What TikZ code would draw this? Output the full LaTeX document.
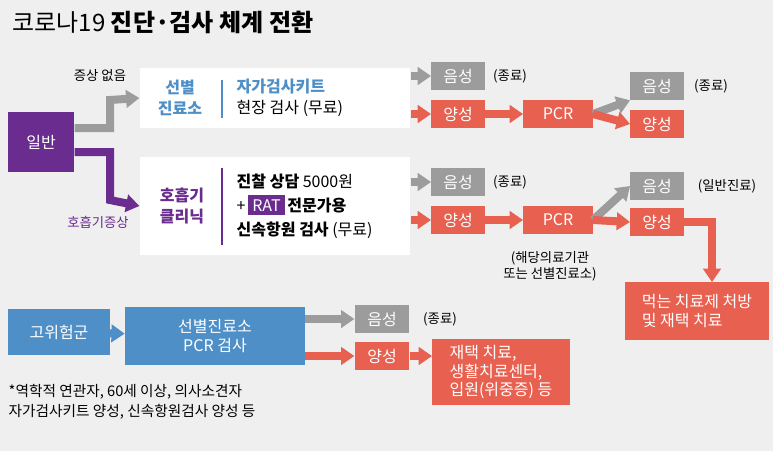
\documentclass[tikz,border=0pt]{standalone}
\usepackage{fontspec}
\setmainfont{Noto Sans CJK KR}
\usetikzlibrary{arrows.meta}
\definecolor{purp}{HTML}{6A2C8E}
\definecolor{blu}{HTML}{4E8FC8}
\definecolor{redd}{HTML}{E8604F}
\definecolor{gry}{HTML}{9C9C9C}
\definecolor{bg}{HTML}{EFEFEF}
\tikzset{
  tag/.style={fill=#1,text=white,inner sep=0pt,font=\fontsize{12}{14}\selectfont},
  wbox/.style={fill=white,inner sep=0pt},
  flow/.style={line width=6pt,draw=#1,-{Triangle[length=10pt,width=13pt]}},
  note/.style={font=\fontsize{10}{12}\selectfont,inner sep=1pt}
}
\begin{document}
\begin{tikzpicture}[x=0.75pt,y=-0.75pt]
    \fill[bg] (0,0) rectangle (773,451);
    \useasboundingbox (0,0) rectangle (773,451);
    \node[anchor=west,font=\fontsize{18}{21}\selectfont] at (8,22) {코로나19 \textbf{진단·검사 체계 전환}};
    % left column
    \node[tag=purp,minimum width=50pt,minimum height=45pt] (gen) at (41,142) {일반};
    \node[tag=blu,minimum width=76pt,minimum height=34pt] (risk) at (59,332) {고위험군};
    % white boxes
    \node[wbox,minimum width=203pt,minimum height=45pt] (box1) at (275,98) {};
    \node[wbox,minimum width=203pt,minimum height=73pt] (box2) at (275,206) {};
    \draw[blu,thick] (222,80) -- (222,118);
    \draw[purp,thick] (222,168) -- (222,245);
    \node[text=blu,align=center,font=\fontsize{12}{16}\selectfont\bfseries] (clin1) at (180,98) {선별\\진료소};
    \node[text=purp,align=center,font=\fontsize{12}{16}\selectfont\bfseries] (clin2) at (182,206) {호흡기\\클리닉};
    \node[anchor=west,align=left,font=\fontsize{12}{16}\selectfont] (txt1) at (232,98) {\textcolor{blu}{\textbf{자가검사키트}}\\현장 검사 (무료)};
    \node[anchor=west,align=left,font=\fontsize{12}{18}\selectfont] (txt2) at (232,206)
      {\textbf{진찰 상담} 5000원\\+\,\colorbox{purp}{\textcolor{white}{RAT}}\,\textbf{전문가용}\\\textbf{신속항원 검사} (무료)};
    % first splits
    \draw[flow=gry] (gen.east) ++(0,-14) -| (110,100) -- (box1.west);
    \draw[flow=purp] (gen.east) ++(0,10) -| (110,200) -- (box2.west);
    \node[note] at (100,75) {증상 없음};
    \node[note,text=purp] at (98,222) {호흡기증상};
    % row 1
    \node[tag=gry,minimum width=40pt,minimum height=21pt] (neg1) at (458,76) {음성};
    \node[tag=redd,minimum width=40pt,minimum height=21pt] (pos1) at (458,114) {양성};
    \node[tag=redd,minimum width=52pt,minimum height=21pt] (pcr1) at (558,114) {PCR};
    \node[tag=gry,minimum width=40pt,minimum height=21pt] (neg1b) at (657,86) {음성};
    \node[tag=redd,minimum width=40pt,minimum height=21pt] (pos1b) at (657,124) {양성};
    \node[note] at (510,76) {(종료)};
    \node[note] at (711,86) {(종료)};
    \draw[flow=gry] (box1.east |- neg1) -- (neg1);
    \draw[flow=redd] (box1.east |- pos1) -- (pos1);
    \draw[flow=redd] (pos1) -- (pcr1);
    \draw[flow=gry] (pcr1.east) -- (neg1b.south west);
    \draw[flow=redd] (pcr1.east) -- (pos1b.west);
    % row 2
    \node[tag=gry,minimum width=40pt,minimum height=21pt] (neg2) at (458,182) {음성};
    \node[tag=redd,minimum width=40pt,minimum height=21pt] (pos2) at (458,220) {양성};
    \node[tag=redd,minimum width=52pt,minimum height=21pt] (pcr2) at (558,220) {PCR};
    \node[tag=gry,minimum width=40pt,minimum height=21pt] (neg2b) at (657,186) {음성};
    \node[tag=redd,minimum width=40pt,minimum height=21pt] (pos2b) at (657,222) {양성};
    \node[note] at (510,182) {(종료)};
    \node[note] at (727,186) {(일반진료)};
    \node[note,align=center] at (550,266) {(해당의료기관\\또는 선별진료소)};
    \draw[flow=gry] (box2.east |- neg2) -- (neg2);
    \draw[flow=redd] (box2.east |- pos2) -- (pos2);
    \draw[flow=redd] (pos2) -- (pcr2);
    \draw[flow=gry] (pcr2.east) -- (neg2b.west);
    \draw[flow=redd] (pcr2.east) -- (pos2b.west);
    \node[tag=redd,minimum width=108pt,minimum height=43pt,align=left] (treat) at (697,311) {먹는 치료제 처방\\및 재택 치료};
    \draw[flow=redd] (pos2b.east) -| (treat.north -| 712,0);
    % row 3
    \node[tag=blu,minimum width=135pt,minimum height=43pt,align=center] (pcr3) at (215,336) {선별진료소\\PCR 검사};
    \node[tag=gry,minimum width=41pt,minimum height=21pt] (neg3) at (382,319) {음성};
    \node[tag=redd,minimum width=41pt,minimum height=21pt] (pos3) at (382,356) {양성};
    \node[tag=redd,minimum width=103pt,minimum height=49pt,align=left] (home) at (501,372) {재택 치료,\\생활치료센터,\\입원(위중증) 등};
    \node[note] at (440,319) {(종료)};
    \draw[flow=blu] (risk) -- (pcr3);
    \draw[flow=gry] (pcr3.east |- neg3) -- (neg3);
    \draw[flow=redd] (pcr3.east |- pos3) -- (pos3);
    \draw[flow=redd] (pos3) -- (pos3 -| home.west);
    \node[anchor=north west,align=left,font=\fontsize{11}{15}\selectfont] (foot) at (4,380)
      {*역학적 연관자, 60세 이상, 의사소견자\\자가검사키트 양성, 신속항원검사 양성 등};
  \end{tikzpicture}
\end{document}
